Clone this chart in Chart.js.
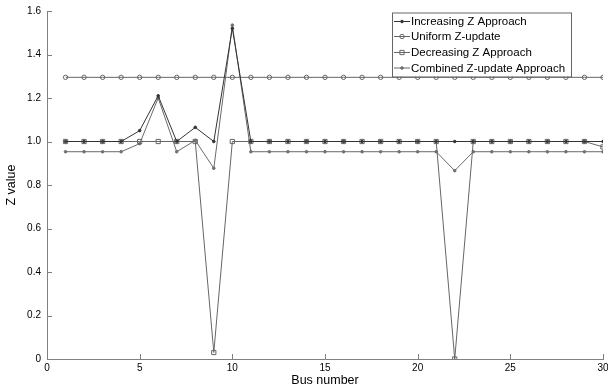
<!DOCTYPE html>
<html>
<head>
<meta charset="utf-8">
<script src="https://cdn.jsdelivr.net/npm/chart.js@4/dist/chart.umd.min.js"></script>
<style>
html,body{margin:0;padding:0;background:#fff;}
#wrap{width:608px;height:390px;}
</style>
</head>
<body>
<div id="wrap"><canvas id="c" width="608" height="390"></canvas></div>
<script>
// Data
const busNumbers = Array.from({length:30},(_,i)=>i+1);
const increasingZ = [1,1,1,1,1.05,1.21,1,1.065,1,1.52,1,1,1,1,1,1,1,1,1,1,1,1,1,1,1,1,1,1,1,1];
const uniformZ = [1.295,1.295,1.295,1.295,1.295,1.295,1.295,1.295,1.295,1.295,1.295,1.295,1.295,1.295,1.295,1.295,1.295,1.295,1.295,1.295,1.295,1.295,1.295,1.295,1.295,1.295,1.295,1.295,1.295,1.295];
const decreasingZ = [1,1,1,1,1,1,1,1,0.03,1,1,1,1,1,1,1,1,1,1,1,1,0,1,1,1,1,1,1,1,0.975];
const combinedZ = [0.953,0.953,0.953,0.953,0.99,1.2,0.953,1.005,0.877,1.535,0.953,0.953,0.953,0.953,0.953,0.953,0.953,0.953,0.953,0.953,0.953,0.866,0.953,0.953,0.953,0.953,0.953,0.953,0.953,0.953];
const seriesNames = ['Increasing Z Approach','Uniform Z-update','Decreasing Z Approach','Combined Z-update Approach'];
const xTicks = [0,5,10,15,20,25,30];
const yTicks = [0,0.2,0.4,0.6,0.8,1,1.2,1.4,1.6];

const toPts = arr => arr.map((v,i)=>({x:busNumbers[i], y:v}));
const FONT = '"Liberation Sans", Arial, Helvetica, sans-serif';

const inwardTicks = {
  id:'inwardTicks',
  afterDraw(chart){
    const ctx = chart.ctx, a = chart.chartArea;
    const xs = chart.scales.x, ys = chart.scales.y;
    ctx.save();
    ctx.strokeStyle = '#808080';
    ctx.lineWidth = 1;
    ctx.beginPath();
    xTicks.forEach(t=>{
      const px = Math.round(xs.getPixelForValue(t))+0.5;
      ctx.moveTo(px, a.bottom); ctx.lineTo(px, a.bottom-5);
    });
    yTicks.forEach(t=>{
      const py = Math.round(ys.getPixelForValue(t))+0.5;
      ctx.moveTo(a.left, py); ctx.lineTo(a.left+5, py);
    });
    ctx.stroke();
    ctx.restore();
  }
};

const boxLegend = {
  id:'boxLegend',
  afterDraw(chart){
    const ctx = chart.ctx;
    const bx = 392, by = 12.5, bw = 179, bh = 64;
    ctx.save();
    ctx.fillStyle = '#fff';
    ctx.fillRect(bx, by, bw, bh);
    ctx.strokeStyle = '#666';
    ctx.lineWidth = 1;
    ctx.strokeRect(bx+0.5, by+0.5, bw, bh);
    const rows = [21.5, 36.5, 52.5, 68];
    chart.data.datasets.forEach((ds,i)=>{
      const y = rows[i];
      ctx.strokeStyle = ds.borderColor;
      ctx.lineWidth = 1;
      ctx.beginPath(); ctx.moveTo(394, y); ctx.lineTo(410, y); ctx.stroke();
      ctx.fillStyle = ds.pointBackgroundColor;
      ctx.strokeStyle = ds.pointBorderColor;
      Chart.helpers.drawPoint(ctx, {pointStyle: ds.pointStyle, radius: ds.pointRadius, rotation: 0, borderWidth: 1}, 402, y);
      ctx.font = '11.5px ' + FONT;
      ctx.textBaseline = 'middle';
      ctx.textAlign = 'left';
      ctx.fillStyle = '#000';
      ctx.fillText(seriesNames[i], 411, y+0.5);
    });
    ctx.restore();
  }
};

const mk = (label, data, color, style, radius, fill) => ({
  label, data: toPts(data), borderColor: color, backgroundColor: fill,
  borderWidth: 1, pointStyle: style, pointRadius: radius,
  pointBorderColor: color, pointBackgroundColor: fill, pointBorderWidth: 1,
  tension: 0, fill: false
});

const datasets = [
  mk(seriesNames[0], increasingZ, '#333', 'circle', 1.3, '#333'),
  mk(seriesNames[1], uniformZ, '#666', 'circle', 2.2, 'rgba(0,0,0,0)'),
  mk(seriesNames[2], decreasingZ, '#666', 'rect', 3, 'rgba(0,0,0,0)'),
  mk(seriesNames[3], combinedZ, '#6a6a6a', 'circle', 1.3, '#777')
];

new Chart(document.getElementById('c'), {
  type: 'line',
  data: { datasets },
  plugins: [inwardTicks, boxLegend],
  options: {
    responsive: false,
    animation: false,
    events: [],
    layout: { padding: { top: 11, right: 3, left: 0, bottom: 0 } },
    plugins: { legend: { display: false }, tooltip: { enabled: false } },
    scales: {
      x: {
        type: 'linear', min: 0, max: 30,
        afterBuildTicks: s => { s.ticks = xTicks.map(v=>({value:v})); },
        afterFit: s => { s.height = 31; s.paddingLeft = 0; s.paddingRight = 0; },
        grid: { display: false, drawTicks: false },
        border: { display: true, color: '#808080', width: 1 },
        ticks: { color: '#000', font: { family: FONT, size: 10 }, padding: 3, maxRotation: 0, autoSkip: false },
        title: { display: true, text: 'Bus number', color: '#000', font: { family: FONT, size: 12.5 }, padding: { top: 0, bottom: 2 } }
      },
      y: {
        type: 'linear', min: 0, max: 1.6,
        afterBuildTicks: s => { s.ticks = yTicks.map(v=>({value:v})); },
        afterFit: s => { s.width = 47; s.paddingTop = 0; s.paddingBottom = 0; },
        grid: { display: false, drawTicks: false },
        border: { display: true, color: '#808080', width: 1 },
        ticks: { color: '#000', font: { family: FONT, size: 10 }, padding: 6 },
        title: { display: true, text: 'Z value', color: '#000', font: { family: FONT, size: 12.5 }, padding: { top: 4, bottom: 0 } }
      }
    }
  }
});
</script>
</body>
</html>
